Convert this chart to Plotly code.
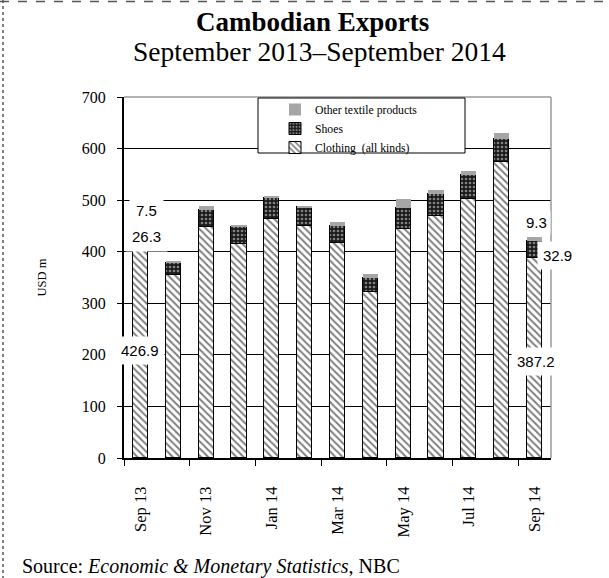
import plotly.graph_objects as go

months = ["Sep 13", "Oct 13", "Nov 13", "Dec 13", "Jan 14", "Feb 14", "Mar 14",
          "Apr 14", "May 14", "Jun 14", "Jul 14", "Aug 14", "Sep 14"]
clothing = [426.9, 355, 448, 414, 463, 449, 417, 321, 444, 469, 502, 574, 387.2]
shoes = [26.3, 23, 33, 33, 42, 37, 33, 29, 41, 43, 46, 45, 32.9]
other = [7.5, 4, 7, 5, 3.5, 3, 8, 6, 17, 8, 9, 12, 9.3]
yticks = [0, 100, 200, 300, 400, 500, 600, 700]
xtick_idx = [0, 2, 4, 6, 8, 10, 12]

x = list(range(len(months)))
SERIF = "Liberation Serif, Times New Roman, serif"
SANS = "Liberation Sans, Arial, sans-serif"

fig = go.Figure()
fig.add_trace(go.Bar(
    x=x, y=clothing, name="Clothing  (all kinds)", width=0.46,
    marker=dict(color="white", line=dict(color="black", width=1),
                pattern=dict(shape="\\", fgcolor="black", bgcolor="white", size=5, solidity=0.4)),
))
fig.add_trace(go.Bar(
    x=x, y=shoes, name="Shoes", width=0.46,
    marker=dict(color="black", line=dict(color="black", width=1),
                pattern=dict(shape=".", fgcolor="#e8e8e8", bgcolor="#1a1a1a", size=4, solidity=0.35)),
))
fig.add_trace(go.Bar(
    x=x, y=other, name="Other textile products", width=0.46,
    marker=dict(color="#a6a6a6", line=dict(width=0)),
))

L, T = 124, 97
W, H = 427, 361
def px(v):
    return (v - L) / W
def py(v):
    return (T + H - v) / H

shapes = [
    dict(type="line", xref="paper", yref="paper", x0=0, x1=1, y0=1, y1=1,
         line=dict(color="#9a9a9a", width=1.5), layer="above"),
    dict(type="line", xref="paper", yref="paper", x0=1, x1=1, y0=0, y1=1,
         line=dict(color="#9a9a9a", width=1.5), layer="above"),
    dict(type="rect", xref="paper", yref="paper", x0=px(258), x1=px(465), y0=py(153), y1=py(98),
         fillcolor="white", line=dict(color="black", width=1), layer="above"),
    dict(type="line", xref="paper", yref="paper", x0=px(3), x1=px(3), y0=py(0), y1=py(578),
         line=dict(color="#555", width=1.5, dash="dot")),
    dict(type="line", xref="paper", yref="paper", x0=px(0), x1=px(609), y0=py(1.5), y1=py(1.5),
         line=dict(color="#555", width=1.5, dash="dash")),
]

lab_font = dict(family=SANS, size=15, color="black")
def lab(xv, yv, txt, pad=5):
    return dict(x=xv, y=yv, xref="x", yref="y", text=txt, showarrow=False,
                bgcolor="white", borderpad=pad, font=lab_font)

annotations = [
    lab(0, 207.5, f"{clothing[0]}"),
    lab(0.19, 429, f"{shoes[0]}", 6),
    lab(0.19, 479, f"{other[0]}", 6),
    lab(12.05, 188, f"{clothing[-1]}"),
    dict(x=px(557), y=393, xref="paper", yref="y", xanchor="center", yanchor="middle",
         text=f"{shoes[-1]}", showarrow=False, bgcolor="white", borderpad=5, font=lab_font),
    lab(12.05, 456, f"{other[-1]}", 3),
    dict(xref="paper", yref="paper", x=px(312), y=py(22), xanchor="center", yanchor="middle",
         text="<b>Cambodian Exports</b>", showarrow=False, font=dict(family=SERIF, size=27, color="black")),
    dict(xref="paper", yref="paper", x=px(319), y=py(51), xanchor="center", yanchor="middle",
         text="September 2013\u2013September 2014", showarrow=False, font=dict(family=SERIF, size=27.5, color="black")),
    dict(xref="paper", yref="paper", x=px(20), y=py(566), xanchor="left", yanchor="middle",
         text="Source: <i>Economic &amp; Monetary Statistics</i>, NBC", showarrow=False,
         font=dict(family=SERIF, size=20, color="black")),
]

fig.update_layout(
    width=609, height=578,
    margin=dict(l=L, r=609 - L - W, t=T, b=578 - T - H, autoexpand=False),
    paper_bgcolor="white", plot_bgcolor="white",
    barmode="stack", bargap=0,
    showlegend=True,
    legend=dict(x=px(275), y=py(95), xanchor="left", yanchor="top", traceorder="reversed",
                bgcolor="rgba(0,0,0,0)", borderwidth=0, font=dict(family=SERIF, size=11.7, color="black"),
                tracegroupgap=0, itemwidth=30),
    shapes=shapes,
    annotations=annotations,
    font=dict(family=SERIF, color="black"),
)
fig.update_yaxes(
    range=[0, 700], tickvals=yticks, showgrid=True, gridcolor="black", gridwidth=1,
    showline=True, linecolor="black", linewidth=2, ticks="outside", ticklen=5, tickcolor="black",
    tickfont=dict(family=SERIF, size=16, color="black"), ticklabelstandoff=8, zeroline=False,
    title=dict(text="USD m", font=dict(family=SERIF, size=12.5, color="black"), standoff=32),
)
fig.update_xaxes(
    range=[-0.5, 12.5], tickvals=xtick_idx, ticktext=[months[i] for i in xtick_idx],
    tickangle=-90, ticks="", showgrid=False, zeroline=False,
    showline=True, linecolor="black", linewidth=2,
    tickfont=dict(family=SERIF, size=16.5, color="black"), ticklabelstandoff=20,
    minor=dict(tickvals=[i - 0.5 for i in xtick_idx[:-1]] + [11.5], ticks="outside", ticklen=6,
               tickcolor="black", tickwidth=1, showgrid=False),
)

fig.write_html("out.html", config={"displayModeBar": False},
               post_script="document.body.style.margin='0';document.body.style.padding='0';document.body.style.overflow='hidden';")
